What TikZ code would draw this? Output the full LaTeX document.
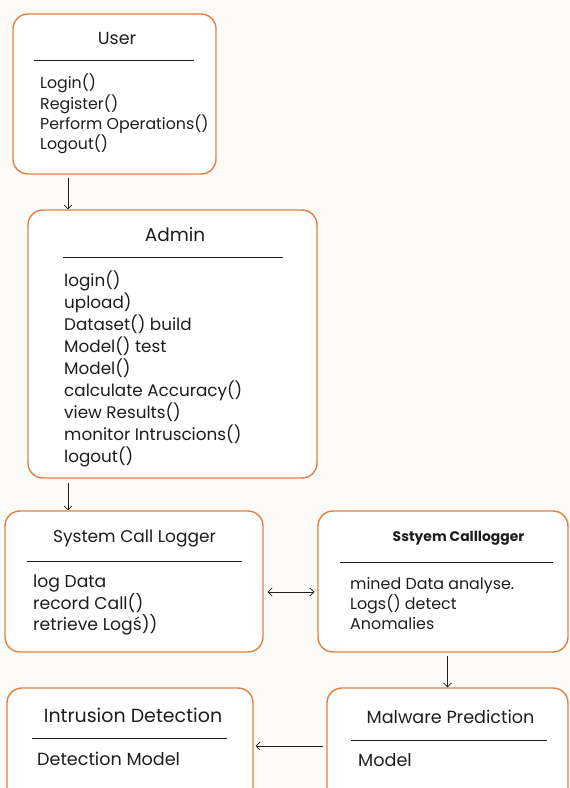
\documentclass[tikz,border=0pt]{standalone}
\usepackage{fontspec}
\setmainfont{Poppins}
\usetikzlibrary{positioning, arrows.meta}
\definecolor{BoxOrange}{RGB}{226,128,64}
\definecolor{PaperBg}{RGB}{252,251,247}
\definecolor{InkGrey}{RGB}{30,30,30}
\begin{document}
\begin{tikzpicture}[x=1pt, y=-1pt,
          cls/.style={rectangle, rounded corners=15pt, draw=BoxOrange,
                      line width=1.4pt, fill=white},
          ttl/.style={font=\fontsize{16}{18}\selectfont, text=InkGrey, inner sep=0pt},
          ops/.style={align=left, anchor=north west, inner sep=0pt,
                      font=\fontsize{16}{20}\selectfont, text=InkGrey},
          rule/.style={draw=InkGrey, line width=0.7pt},
          arr/.style={-{Straight Barb[length=4pt]}, draw=InkGrey, line width=0.7pt}
        ]
        \fill[PaperBg] (0,0) rectangle (570,788);
        \clip (0,0) rectangle (570,788);

        % user
        \node[cls, minimum width=203pt, minimum height=160pt] (usr) at (114.5,94) {};
        \node[ttl, font=\fontsize{17.5}{19}\selectfont] (usrT) at (117,38) {User};
        \draw[rule] (34,60) -- (194,60);
        \node[ops, font=\fontsize{15.8}{20.3}\selectfont] (usrO) at (40,74)
              {Login()\\Register()\\Perform Operations()\\Logout()};

        % admin
        \node[cls, minimum width=289pt, minimum height=268pt] (adm) at (172.5,344) {};
        \node[ttl, font=\fontsize{18.5}{20}\selectfont] (admT) at (175,235) {Admin};
        \draw[rule] (63,257) -- (283,257);
        \node[ops, font=\fontsize{16.8}{21.9}\selectfont] (admO) at (64,271)
              {login()\\upload)\\Dataset() build\\Model() test\\Model()\\
               calculate Accuracy()\\view Results()\\monitor Intruscions()\\logout()};

        % system call logger
        \node[cls, minimum width=258pt, minimum height=141pt] (scl) at (134,581.5) {};
        \node[ttl, font=\fontsize{17}{19}\selectfont] (sclT) at (134.5,538) {System Call Logger};
        \draw[rule] (27,561) -- (242,561);
        \node[ops, font=\fontsize{17.2}{20.5}\selectfont] (sclO) at (33,575)
              {log Data\\record Call()\\retrieve Logś))};

        % second logger
        \node[cls, minimum width=250pt, minimum height=141pt] (scl2) at (443,581.5) {};
        \node[ttl, font=\bfseries\fontsize{13.9}{15}\selectfont] (scl2T) at (458.5,538) {Sstyem Calllogger};
        \draw[rule] (340,562) -- (553,562);
        \node[ops, font=\fontsize{15.9}{20.2}\selectfont] (scl2O) at (350,577)
              {mined Data analyse.\\Logs() detect\\Anomalies};

        % malware prediction
        \node[cls, minimum width=241pt, minimum height=130pt] (mal) at (447.5,753) {};
        \node[ttl, font=\fontsize{17.6}{19}\selectfont] (malT) at (450.5,717) {Malware Prediction};
        \draw[rule] (351,740) -- (547,740);
        \node[ops, font=\fontsize{17.6}{20}\selectfont] (malO) at (358,753) {Model};

        % intrusion detection
        \node[cls, minimum width=246pt, minimum height=130pt] (ids) at (130,753) {};
        \node[ttl, font=\fontsize{19}{21}\selectfont] (idsT) at (133,715) {Intrusion Detection};
        \draw[rule] (32,738) -- (227,738);
        \node[ops, font=\fontsize{17.6}{20}\selectfont] (idsO) at (37,752) {Detection Model};

        \draw[arr, shorten <=3pt] ([xshift=-46.5pt]usr.south) -- ([xshift=-46.5pt]usr.south |- adm.north);
        \draw[arr, shorten <=4pt] ([xshift=-104.5pt]adm.south) -- ([xshift=-104.5pt]adm.south |- scl.north);
        \draw[{Straight Barb[length=4pt]}-{Straight Barb[length=4pt]}, draw=InkGrey, line width=0.7pt,
              shorten <=4pt, shorten >=3pt] ([yshift=-10.5pt]scl.east) -- ([yshift=-10.5pt]scl2.west);
        \draw[arr, shorten <=3pt] (mal.north |- scl2.south) -- (mal.north);
        \draw[arr, shorten <=3pt, shorten >=2pt] ([yshift=7pt]mal.west) -- ([yshift=7pt]mal.west -| ids.east);
      \end{tikzpicture}
\end{document}
